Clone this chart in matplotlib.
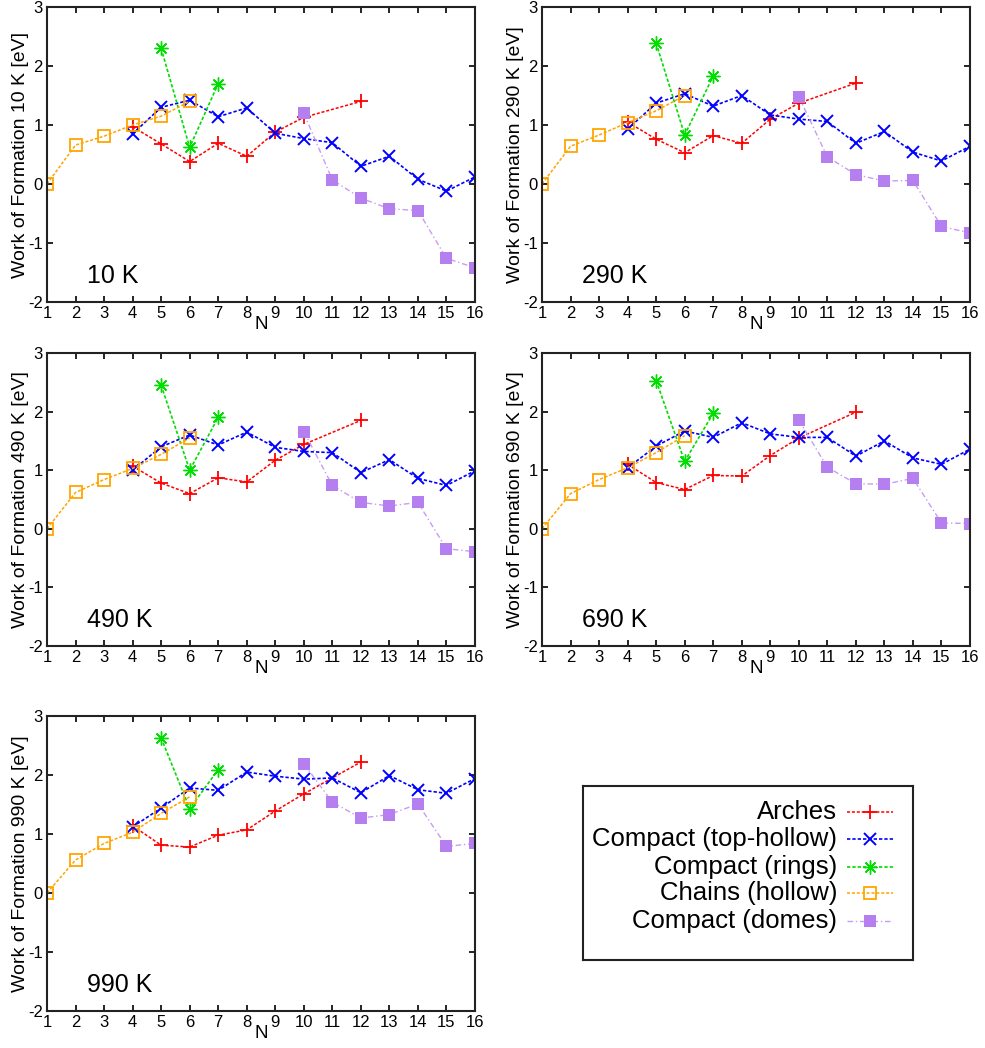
import matplotlib
matplotlib.use('Agg')
import matplotlib.pyplot as plt

plt.rcParams['font.family'] = ['Liberation Sans', 'DejaVu Sans']
plt.rcParams['axes.unicode_minus'] = False

# Temperatures for each panel
temps = ['10 K', '290 K', '490 K', '690 K', '990 K']

# Cluster sizes per structure family
n_arches = [4, 5, 6, 7, 8, 9, 10, 12]
n_top_hollow = [4, 5, 6, 7, 8, 9, 10, 11, 12, 13, 14, 15, 16]
n_rings = [5, 6, 7]
n_chains = [1, 2, 3, 4, 5, 6]
n_domes = [10, 11, 12, 13, 14, 15, 16]

# Work of formation [eV], one row per temperature
arches = [
    [0.97, 0.68, 0.38, 0.69, 0.47, 0.88, 1.13, 1.40],
    [1.05, 0.76, 0.53, 0.82, 0.69, 1.10, 1.37, 1.71],
    [1.07, 0.78, 0.60, 0.87, 0.80, 1.17, 1.44, 1.85],
    [1.10, 0.79, 0.67, 0.91, 0.90, 1.25, 1.55, 1.99],
    [1.14, 0.81, 0.78, 0.98, 1.07, 1.39, 1.68, 2.22],
]
top_hollow = [
    [0.85, 1.30, 1.42, 1.14, 1.29, 0.86, 0.77, 0.70, 0.30, 0.47, 0.08, -0.12, 0.12],
    [0.93, 1.37, 1.53, 1.32, 1.50, 1.17, 1.10, 1.06, 0.69, 0.89, 0.54, 0.39, 0.64],
    [1.00, 1.40, 1.60, 1.43, 1.65, 1.39, 1.32, 1.30, 0.96, 1.18, 0.86, 0.74, 0.99],
    [1.04, 1.41, 1.67, 1.56, 1.81, 1.62, 1.56, 1.56, 1.24, 1.50, 1.21, 1.10, 1.36],
    [1.12, 1.44, 1.78, 1.74, 2.05, 1.98, 1.93, 1.95, 1.70, 1.99, 1.75, 1.69, 1.94],
]
rings = [
    [2.30, 0.62, 1.70],
    [2.39, 0.83, 1.83],
    [2.45, 1.00, 1.90],
    [2.53, 1.15, 1.97],
    [2.63, 1.43, 2.09],
]
chains = [
    [0.0, 0.66, 0.81, 1.00, 1.15, 1.40],
    [0.0, 0.64, 0.83, 1.04, 1.24, 1.50],
    [0.0, 0.62, 0.84, 1.03, 1.27, 1.55],
    [0.0, 0.60, 0.84, 1.04, 1.30, 1.59],
    [0.0, 0.56, 0.84, 1.03, 1.35, 1.63],
]
domes = [
    [1.20, 0.07, -0.24, -0.42, -0.45, -1.26, -1.42],
    [1.48, 0.46, 0.16, 0.05, 0.06, -0.72, -0.83],
    [1.66, 0.74, 0.45, 0.39, 0.45, -0.34, -0.39],
    [1.86, 1.05, 0.77, 0.76, 0.86, 0.10, 0.09],
    [2.19, 1.54, 1.27, 1.33, 1.51, 0.79, 0.84],
]

labels = ['Arches', 'Compact (top-hollow)', 'Compact (rings)',
          'Chains (hollow)', 'Compact (domes)']

DOT = (0, (2, 1.2))
styles = [
    dict(color='#ff0000', ls=DOT, lw=1.1, marker='+', ms=10, mew=1.3),
    dict(color='#0000ff', ls=DOT, lw=1.2, marker='x', ms=9, mew=1.4),
    dict(color='#00dd00', ls=DOT, lw=1.2, marker=(8, 2, 0), ms=10, mew=1.0),
    dict(color='#ffa500', ls=DOT, lw=1.1, marker='s', ms=9, mew=1.3, mfc='none'),
    dict(color='#c79cf4', ls=(0, (4, 2, 1, 2)), lw=1.0, marker='s', ms=8,
         mew=0, mfc='#b67ff0'),
]

W, H = 985, 1048
fig = plt.figure(figsize=(W / 100, H / 100), dpi=100)

# panel boxes in pixels: left, top, right, bottom
boxes = [(47, 7, 475, 302), (542, 7, 970, 302),
         (47, 353, 475, 646), (542, 353, 970, 646),
         (47, 716, 475, 1011)]

for k, temp in enumerate(temps):
    l, t, r, b = boxes[k]
    ax = fig.add_axes([l / W, 1 - b / H, (r - l) / W, (b - t) / H])
    series = [(n_arches, arches[k]), (n_top_hollow, top_hollow[k]),
              (n_rings, rings[k]), (n_chains, chains[k]), (n_domes, domes[k])]
    for (xs, ys), st in zip(series, styles):
        ax.plot(xs, ys, **st)
    ax.set_xlim(1, 16)
    ax.set_ylim(-2, 3)
    ax.set_xticks(range(1, 17))
    ax.set_yticks(range(-2, 4))
    ax.tick_params(direction='in', top=True, right=True, length=4,
                   width=1.2, labelsize=12, pad=3)
    for sp in ax.spines.values():
        sp.set_linewidth(1.5)
        sp.set_color('#222222')
    ax.set_xlabel('N', fontsize=13.5, labelpad=-4)
    ax.set_ylabel('Work of Formation %s [eV]' % temp, fontsize=14, labelpad=-1)
    ax.text(0.094, 0.064, temp, transform=ax.transAxes, fontsize=18)

# legend box drawn by hand (gnuplot style: right-aligned text, sample after)
lax = fig.add_axes([583 / W, 1 - 960 / H, 330 / W, 174 / H])
lax.set_xlim(583, 913)
lax.set_ylim(960, 786)
lax.set_xticks([])
lax.set_yticks([])
for sp in lax.spines.values():
    sp.set_linewidth(1.5)
    sp.set_color('#222222')
row_y = [812, 839, 867, 893, 921]
for lab, st, y in zip(labels, styles, row_y):
    lax.text(837, y, lab, ha='right', va='center', fontsize=18.5)
    lax.plot([847, 870, 893], [y, y, y], markevery=[1], **st)

fig.savefig('out.png', dpi=100)
